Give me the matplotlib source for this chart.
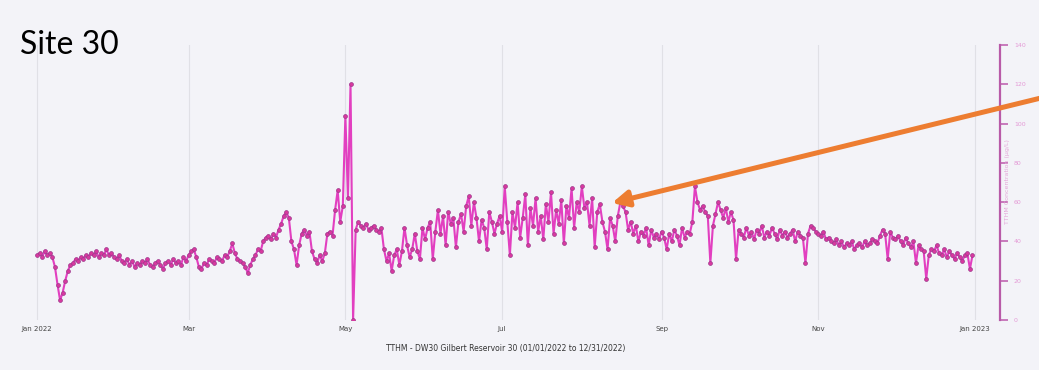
import pandas as pd
import matplotlib
matplotlib.use("Agg")
from matplotlib import pyplot as plt
import matplotlib.dates as mdates

# daily readings, one list per month
jan = [33,34,32,35,33,34,32,27,18,10,14,20,25,28,29,31,30,32,31,33,32,34,33,35,32,34,33,36,33,34,32]
feb = [31,33,30,29,31,28,30,27,29,28,30,29,31,28,27,29,30,28,26,29,30,28,31,29,30,28,32,30]
mar = [33,35,36,32,27,26,29,28,31,30,29,32,31,30,33,32,35,39,34,31,30,29,27,24,28,31,33,36,35,40,42]
apr = [43,41,44,42,46,49,53,55,52,40,36,28,38,44,46,43,45,35,31,29,33,30,34,44,45,43,56,66,50,58]
may = [104,62,120,0,46,50,48,47,49,46,47,48,46,45,47,36,30,34,25,33,36,28,35,47,38,32,36,44,35,31,47]
jun = [41,47,50,31,45,56,44,53,38,55,49,52,37,50,54,45,58,63,48,60,52,40,51,47,36,55,50,44,49,53]
jul = [45,68,50,33,55,47,60,42,52,64,38,57,48,62,45,53,41,59,50,65,44,56,49,61,39,58,52,67,47,60,55]
aug = [68,57,60,48,62,37,55,59,50,45,36,52,48,40,53,60,58,55,46,50,44,48,40,45,43,47,38,46,42,44,41]
sep = [45,42,36,44,40,46,43,38,47,42,45,44,50,68,60,56,58,55,53,29,48,54,60,56,52,57,50,55,51,31]
oct_ = [46,44,42,47,43,45,41,46,44,48,42,45,43,47,44,41,46,43,45,42,44,46,40,45,43,42,29,44,48,47,45]
nov = [44,43,45,41,42,40,39,41,38,40,37,39,38,40,36,38,39,37,40,38,39,41,40,39,43,46,44,31,45,42]
dec = [41,43,40,38,42,39,37,40,29,38,36,35,21,33,36,35,38,34,33,36,32,35,33,31,34,32,30,33,34,26,33]

values = jan + feb + mar + apr + may + jun + jul + aug + sep + oct_ + nov + dec
dates = pd.date_range("2022-01-01", periods=len(values), freq="D")

tick_dates = pd.to_datetime(["2022-01-01", "2022-03-01", "2022-05-01", "2022-07-01",
                             "2022-09-01", "2022-11-01", "2023-01-01"])
tick_labels = ["Jan 2022", "Mar", "May", "Jul", "Sep", "Nov", "Jan 2023"]
y_ticks = [0, 20, 40, 60, 80, 100, 120, 140]

bg = "#f3f3f8"
pink = "#e23fc0"

fig = plt.figure(figsize=(10.39, 3.70), dpi=100, facecolor=bg)
ax = fig.add_axes([20/1039, 1 - 320/370, 980/1039, 275/370], facecolor=bg)

ax.plot(dates, values, color=pink, lw=1.5, marker="o", markersize=2.8,
        markerfacecolor="#d8389f", markeredgecolor="#9c3a8c", markeredgewidth=0.5, zorder=3)

x0 = mdates.date2num(pd.Timestamp("2022-01-01"))
x1 = mdates.date2num(pd.Timestamp("2023-01-01"))
ax.set_xlim(x0 - 6.6, x1 + 9.7)
ax.set_ylim(0, 140)

ax.set_xticks(tick_dates)
ax.set_xticklabels(tick_labels, fontsize=5, color="#444444")
ax.tick_params(axis="x", length=0, pad=4)
ax.grid(axis="x", color="#e0e0e6", lw=0.8)

ax.yaxis.tick_right()
ax.set_yticks(y_ticks)
ax.set_yticklabels([str(v) for v in y_ticks], fontsize=4.5, color="#e49ad6")
ax.tick_params(axis="y", length=6, width=1.2, color="#c065b2", pad=4)

for s in ["top", "left", "bottom"]:
    ax.spines[s].set_visible(False)
ax.spines["right"].set_color("#b85aa8")
ax.spines["right"].set_linewidth(1.6)

fig.text(1007/1039, 1 - 182/370, "TTHM Concentration (µg/L)", rotation=90,
         fontsize=4.5, color="#e4a6d8", ha="center", va="center")

fig.text(506/1039, 1 - 348/370, "TTHM - DW30 Gilbert Reservoir 30 (01/01/2022 to 12/31/2022)",
         fontsize=5.5, color="#333333", ha="center", va="center")

fig.text(20/1039, 1 - 45/370, "Site 30", fontfamily="Lato", fontsize=23,
         color="black", ha="left", va="center")

ax.annotate("", xy=(612, 370 - 203), xycoords="figure pixels",
            xytext=(1045, 370 - 97), textcoords="figure pixels",
            arrowprops=dict(arrowstyle="-|>", lw=3.6, color="#ed7d31",
                            mutation_scale=24, shrinkA=0, shrinkB=0),
            annotation_clip=False)

fig.savefig("out.png", dpi=100, facecolor=bg)
